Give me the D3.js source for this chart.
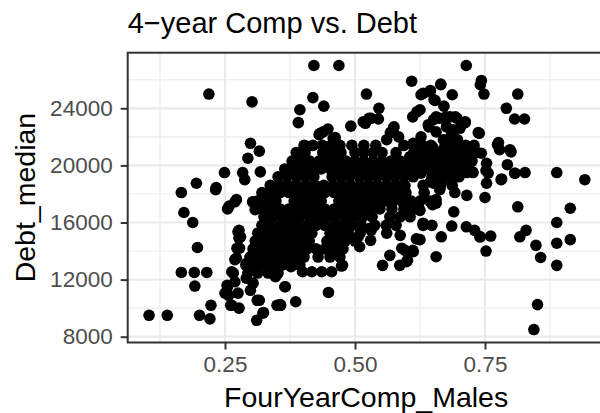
<!DOCTYPE html>
<html>
<head>
<meta charset="utf-8">
<script src="https://cdn.jsdelivr.net/npm/d3@7"></script>
<style>
  html, body { margin: 0; padding: 0; background: #ffffff; }
  svg { display: block; }
</style>
</head>
<body>
<svg id="chart" width="600" height="413"></svg>
<script>
// ---- data (FourYearComp_Males, Debt_median) ----
const titleText = "4\u2212year Comp vs. Debt";
const xLabel = "FourYearComp_Males";
const yLabel = "Debt_median";
const xTicks = [0.25, 0.50, 0.75];
const xTickLabels = ["0.25", "0.50", "0.75"];
const xMinor = [0.125, 0.375, 0.625, 0.875];
const yTicks = [8000, 12000, 16000, 20000, 24000];
const yTickLabels = ["8000", "12000", "16000", "20000", "24000"];
const yMinor = [10000, 14000, 18000, 22000, 26000];

const outerSchools = [
[0.104,9500],[0.139,9500],[0.166,18100],[0.171,16700],[0.188,16000],[0.195,18750],[0.197,14250],[0.166,12500],
[0.191,12500],[0.192,11550],[0.215,12500],[0.201,9500],[0.221,9250],[0.223,10200],[0.219,25000],[0.233,18450],
[0.249,19500],[0.255,16950],[0.258,17150],[0.269,17450],[0.272,17600],[0.255,11500],[0.257,10900],[0.261,10200],
[0.266,12450],[0.269,11850],[0.277,10000],[0.275,11050],[0.277,15450],[0.280,15000],[0.278,14200],[0.272,13500],
[0.294,13000],[0.291,12100],[0.299,11250],[0.302,24450],[0.299,21550],[0.316,21000],[0.294,20500],[0.284,19500],
[0.288,19000],[0.303,17450],[0.308,16900],[0.318,19550],[0.311,9150],[0.324,9700],[0.316,10550],[0.333,16400],
[0.333,15250],[0.328,14300],[0.357,10200],[0.386,10450],[0.366,11500],[0.347,12200],[0.358,13350],[0.377,12900],
[0.394,23900],[0.391,23000],[0.421,27000],[0.469,27000],[0.419,24750],[0.440,24150],[0.406,21350],[0.433,22250],
[0.448,22550],[0.462,21950],[0.492,22750],[0.522,25000],[0.520,22950],[0.531,23300],[0.546,24000],[0.545,23250],
[0.575,22700],[0.568,22300],[0.584,22000],[0.609,25900],[0.611,23400],[0.625,23900],[0.627,24950],[0.645,25250],
[0.652,24600],[0.665,25650],[0.671,24150],[0.687,24950],[0.714,27000],[0.743,25950],[0.748,25000],[0.741,25650],
[0.737,22300],[0.712,23000],[0.791,24000],[0.813,25000],[0.807,23250],[0.826,23250],[0.774,21450],[0.800,20950],
[0.778,21100],[0.793,20050],[0.781,19000],[0.807,19450],[0.827,19500],[0.888,19500],[0.942,19000],[0.813,17100],
[0.914,17000],[0.888,16000],[0.888,14550],[0.914,14800],[0.888,13000],[0.817,15000],[0.829,15450],[0.848,14400],
[0.857,13550],[0.851,10250],[0.844,8500],[0.752,14000],[0.761,15050],[0.741,15000],[0.730,15450],[0.714,15700],
[0.750,17750],[0.753,18750],[0.753,20150],[0.752,19650],[0.743,20850],[0.715,17900],[0.726,19550],[0.711,19550],
[0.692,18100],[0.690,16750],[0.686,15750],[0.666,15000],[0.656,13600],[0.648,15800],[0.631,15800],[0.618,14850],
[0.611,14050],[0.601,13350],[0.586,13000],[0.590,14200],[0.567,13700],[0.553,13000],[0.561,15250],[0.530,14750],
[0.531,15450],[0.509,14300],[0.506,15000],[0.476,13000],[0.449,11100],[0.455,12550],[0.436,12550],[0.417,12550],
[0.399,12550],[0.656,17600],[0.649,17250],
[0.527,23300],[0.516,23050],[0.574,22600],[0.561,21800],[0.619,23750],[0.439,22350],[0.431,22150],[0.458,21900],
[0.407,21300],
[0.663,23300],[0.683,23400],[0.696,23300],[0.712,23050],[0.676,22700],[0.689,22500],[0.702,22600],[0.686,22150],
[0.670,21800],[0.651,18750],[0.663,18500],[0.715,19500],[0.727,19500],[0.686,19450],[0.756,19450],[0.782,19050],
[0.808,19450],[0.776,21600],[0.798,21100],[0.739,22250],[0.665,25700],[0.644,25150],[0.631,25050],[0.654,24550],
[0.651,23200],[0.641,22850],
[0.740,15000],[0.625,16850],[0.631,15950],[0.625,14800],[0.656,17350],[0.663,18300],
[0.365,11500],[0.356,10250],[0.474,12950],[0.599,13250],[0.596,14050],[0.612,13950],[0.529,15600],[0.587,15100],
[0.232,18300],[0.275,15350],[0.277,14900],[0.273,14200],[0.269,13400],[0.263,12550],[0.254,11600],[0.250,11050],
[0.263,10200],[0.292,13150],[0.304,11750],[0.312,10550],[0.323,9650],[0.350,10200],
[0.656,23400],[0.675,23400],[0.693,23400],[0.686,22250],[0.678,21800],[0.697,21800],[0.689,21200],[0.671,21200],
[0.700,20600],[0.723,21300],[0.686,19900],[0.689,19450],[0.675,19900],[0.664,20600],[0.649,21300],[0.631,21300],
[0.623,20600],[0.642,20600],[0.656,19450],[0.667,18850],[0.664,18500],[0.645,18850],[0.627,19450],[0.634,20050],
[0.616,20050],[0.605,20600],[0.612,21550],[0.627,22000],[0.642,22700],[0.656,22350]
];

const coreSchools = [
[0.402,21400],[0.419,21400],[0.437,21400],[0.454,21400],[0.471,21400],[0.494,21400],[0.517,21400],[0.540,21400],
[0.594,21400],[0.612,21400],[0.629,21400],[0.646,21400],[0.675,21400],[0.694,21400],[0.713,21400],[0.729,21400],
[0.387,20900],[0.404,20900],[0.438,20900],[0.456,20900],[0.473,20900],[0.500,20900],[0.517,20900],
[0.535,20900],[0.552,20900],[0.579,20900],[0.613,20900],[0.631,20900],[0.648,20900],[0.665,20900],
[0.683,20900],[0.700,20900],[0.717,20900],[0.735,20900],
[0.379,20300],[0.396,20300],[0.413,20300],[0.431,20300],[0.448,20300],[0.465,20300],[0.483,20300],[0.500,20300],
[0.517,20300],[0.535,20300],[0.552,20300],[0.569,20300],[0.587,20300],[0.604,20300],[0.621,20300],[0.638,20300],
[0.656,20300],[0.673,20300],[0.690,20300],[0.708,20300],[0.725,20300],
[0.365,19750],[0.383,19750],[0.400,19750],[0.417,19750],[0.435,19750],[0.452,19750],[0.469,19750],[0.487,19750],
[0.504,19750],[0.521,19750],[0.538,19750],[0.556,19750],[0.573,19750],[0.590,19750],[0.608,19750],[0.625,19750],
[0.642,19750],[0.660,19750],[0.677,19750],[0.694,19750],[0.712,19750],
[0.352,19200],[0.369,19200],[0.387,19200],[0.404,19200],[0.421,19200],[0.456,19200],[0.473,19200],[0.490,19200],
[0.508,19200],[0.525,19200],[0.542,19200],[0.560,19200],[0.577,19200],[0.594,19200],[0.612,19200],[0.648,19200],
[0.665,19200],[0.683,19200],[0.700,19200],
[0.337,18600],[0.354,18600],[0.371,18600],[0.388,18600],[0.406,18600],[0.423,18600],[0.440,18600],[0.458,18600],
[0.475,18600],[0.492,18600],[0.510,18600],[0.527,18600],[0.544,18600],[0.562,18600],[0.579,18600],[0.596,18600],
[0.631,18600],[0.663,18600],[0.687,18600],
[0.321,18100],[0.338,18100],[0.356,18100],[0.373,18100],[0.390,18100],[0.408,18100],[0.425,18100],[0.442,18100],
[0.460,18100],[0.477,18100],[0.494,18100],[0.512,18100],[0.529,18100],[0.546,18100],[0.563,18100],[0.581,18100],
[0.598,18100],[0.633,18100],
[0.313,17500],[0.331,17500],[0.348,17500],[0.383,17500],[0.400,17500],[0.417,17500],[0.435,17500],
[0.469,17500],[0.487,17500],[0.504,17500],[0.521,17500],[0.538,17500],[0.556,17500],[0.573,17500],
[0.590,17500],[0.608,17500],[0.625,17500],[0.644,17500],
[0.321,16950],[0.338,16950],[0.356,16950],[0.373,16950],[0.390,16950],[0.408,16950],[0.425,16950],[0.442,16950],
[0.460,16950],[0.477,16950],[0.494,16950],[0.512,16950],[0.529,16950],[0.548,16950],[0.571,16950],[0.594,16950],
[0.613,16950],
[0.325,16400],[0.342,16400],[0.360,16400],[0.377,16400],[0.394,16400],[0.412,16400],[0.429,16400],[0.446,16400],
[0.463,16400],[0.481,16400],[0.498,16400],[0.515,16400],[0.533,16400],[0.567,16400],[0.587,16400],[0.606,16400],
[0.321,15800],[0.338,15800],[0.356,15800],[0.373,15800],[0.390,15800],[0.408,15800],[0.425,15800],[0.442,15800],
[0.460,15800],[0.477,15800],[0.494,15800],[0.512,15800],[0.538,15800],[0.560,15800],[0.579,15800],
[0.313,15250],[0.331,15250],[0.348,15250],[0.365,15250],[0.383,15250],[0.400,15250],[0.417,15250],
[0.452,15250],[0.469,15250],[0.487,15250],[0.510,15250],
[0.308,14700],[0.325,14700],[0.342,14700],[0.360,14700],[0.377,14700],[0.394,14700],[0.412,14700],
[0.446,14700],[0.463,14700],[0.481,14700],[0.500,14700],
[0.304,14150],[0.321,14150],[0.338,14150],[0.356,14150],[0.373,14150],[0.390,14150],[0.408,14150],[0.425,14150],
[0.442,14150],[0.460,14150],[0.477,14150],
[0.298,13580],[0.315,13580],[0.333,13580],[0.350,13580],[0.367,13580],[0.385,13580],[0.402,13580],[0.429,13580],
[0.452,13580],[0.471,13580],
[0.290,13020],[0.308,13020],[0.325,13020],[0.342,13020],[0.360,13020],[0.377,13020],[0.394,13020],
[0.294,12460],[0.313,12460],[0.333,12460],[0.352,12460]
];

const schools = outerSchools.concat(coreSchools);

// ---- layout ----
const W = 600, H = 413;
const panel = { left: 127.7, top: 52.7, right: 604.6, bottom: 342.5 };
const font = "'Liberation Sans', Arial, Helvetica, sans-serif";

const x = d3.scaleLinear().domain([0.0629, 0.98]).range([panel.left, panel.right]);
const y = d3.scaleLinear().domain([7594, 27895]).range([panel.bottom, panel.top]);

const svg = d3.select("#chart");
svg.append("rect").attr("width", W).attr("height", H).attr("fill", "#ffffff");

svg.append("rect")
  .attr("x", panel.left).attr("y", panel.top)
  .attr("width", panel.right - panel.left).attr("height", panel.bottom - panel.top)
  .attr("fill", "#ffffff");

const grid = svg.append("g");
grid.selectAll("line.xminor").data(xMinor).enter().append("line")
  .attr("x1", d => x(d)).attr("x2", d => x(d))
  .attr("y1", panel.top).attr("y2", panel.bottom)
  .attr("stroke", "#EBEBEB").attr("stroke-width", 1.1);
grid.selectAll("line.yminor").data(yMinor).enter().append("line")
  .attr("y1", d => y(d)).attr("y2", d => y(d))
  .attr("x1", panel.left).attr("x2", panel.right)
  .attr("stroke", "#EBEBEB").attr("stroke-width", 1.1);
grid.selectAll("line.xmajor").data(xTicks).enter().append("line")
  .attr("x1", d => x(d)).attr("x2", d => x(d))
  .attr("y1", panel.top).attr("y2", panel.bottom)
  .attr("stroke", "#EBEBEB").attr("stroke-width", 2.2);
grid.selectAll("line.ymajor").data(yTicks).enter().append("line")
  .attr("y1", d => y(d)).attr("y2", d => y(d))
  .attr("x1", panel.left).attr("x2", panel.right)
  .attr("stroke", "#EBEBEB").attr("stroke-width", 2.2);

svg.append("g").selectAll("circle").data(schools).enter().append("circle")
  .attr("cx", d => x(d[0])).attr("cy", d => y(d[1]))
  .attr("r", 5.8).attr("fill", "#000000");

svg.append("rect")
  .attr("x", panel.left).attr("y", panel.top)
  .attr("width", panel.right - panel.left).attr("height", panel.bottom - panel.top)
  .attr("fill", "none").attr("stroke", "#333333").attr("stroke-width", 2);

const xAxis = d3.axisBottom(x).tickValues(xTicks)
  .tickFormat((d, i) => xTickLabels[i]).tickSize(7).tickPadding(7);
const gx = svg.append("g").attr("transform", `translate(0,${panel.bottom})`).call(xAxis);
gx.select(".domain").remove();
gx.selectAll(".tick line").attr("stroke", "#333333").attr("stroke-width", 2);
gx.selectAll(".tick text").attr("fill", "#4D4D4D")
  .style("font-family", font).style("font-size", "22.5px");

const yAxis = d3.axisLeft(y).tickValues(yTicks)
  .tickFormat((d, i) => yTickLabels[i]).tickSize(7).tickPadding(8);
const gy = svg.append("g").attr("transform", `translate(${panel.left},0)`).call(yAxis);
gy.select(".domain").remove();
gy.selectAll(".tick line").attr("stroke", "#333333").attr("stroke-width", 2);
gy.selectAll(".tick text").attr("fill", "#4D4D4D")
  .style("font-family", font).style("font-size", "22.5px");

svg.append("text").attr("x", panel.left).attr("y", 32.5)
  .attr("fill", "#000000").style("font-family", font).style("font-size", "29px")
  .text(titleText);

svg.append("text").attr("x", (panel.left + panel.right) / 2).attr("y", 406.5)
  .attr("text-anchor", "middle").attr("fill", "#000000")
  .style("font-family", font).style("font-size", "28.5px")
  .text(xLabel);

svg.append("text")
  .attr("transform", `translate(34.5,${(panel.top + panel.bottom) / 2}) rotate(-90)`)
  .attr("text-anchor", "middle").attr("fill", "#000000")
  .style("font-family", font).style("font-size", "28.5px")
  .text(yLabel);
</script>
</body>
</html>
